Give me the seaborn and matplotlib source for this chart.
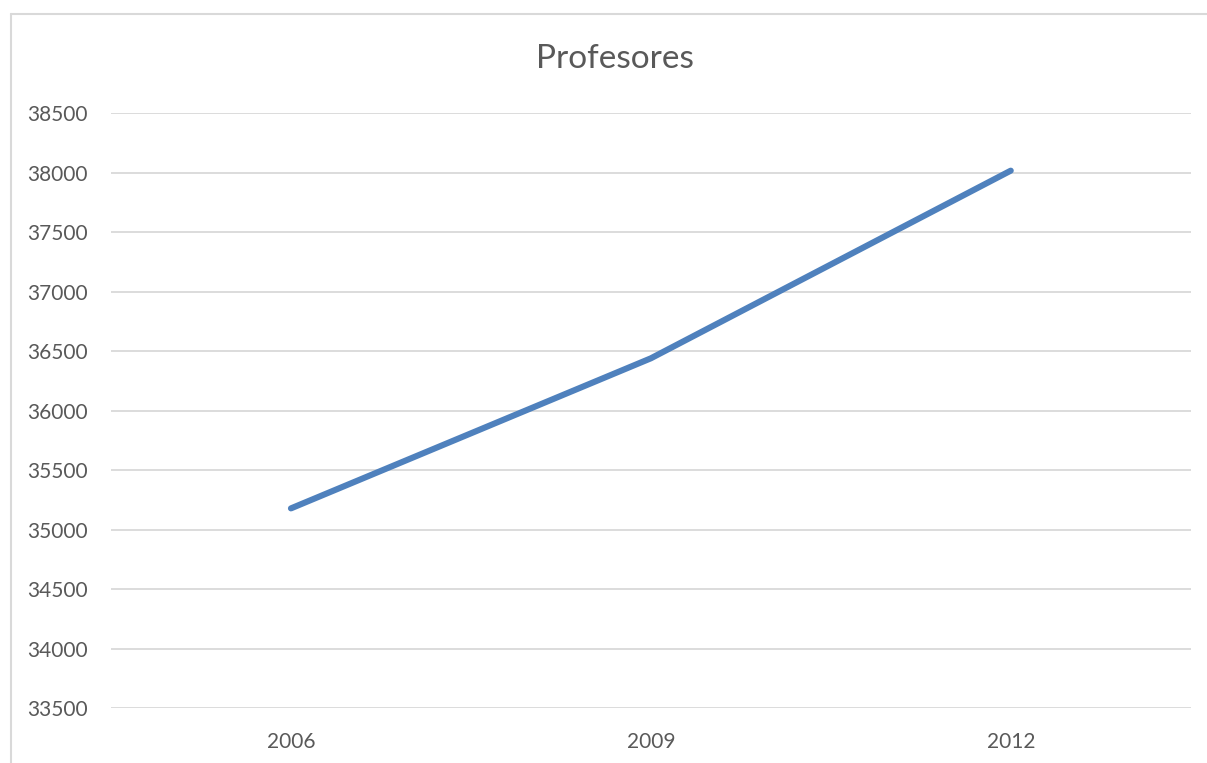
import matplotlib
matplotlib.use("Agg")
import matplotlib.pyplot as plt
import seaborn as sns
import pandas as pd
from matplotlib.lines import Line2D

# Number of teachers per survey year
years = ["2006", "2009", "2012"]
teachers = [35180, 36441, 38018]
y_ticks = [33500, 34000, 34500, 35000, 35500, 36000, 36500, 37000, 37500, 38000, 38500]

sns.set_theme(style="white")
plt.rcParams["font.family"] = ["Lato", "DejaVu Sans"]

text_color = "#595959"
grid_color = "#d9d9d9"
line_color = "#4f81bd"

fig = plt.figure(figsize=(12.07, 7.63), dpi=100)
ax = fig.add_axes([111 / 1207, (763 - 708.3) / 763, (1190.7 - 111) / 1207, (708.3 - 113.3) / 763])

df = pd.DataFrame({"year": years, "teachers": teachers})
df["pos"] = range(len(years))
sns.lineplot(data=df, x="pos", y="teachers", ax=ax, color=line_color,
             linewidth=4.4, solid_capstyle="round", solid_joinstyle="round")

ax.set_xlim(-0.5, len(years) - 0.5)
ax.set_ylim(y_ticks[0], y_ticks[-1])
ax.set_xticks(range(len(years)))
ax.set_xticklabels(years)
ax.set_yticks(y_ticks)
ax.set_yticklabels([str(v) for v in y_ticks])
ax.set_xlabel("")
ax.set_ylabel("")

for v in y_ticks:
    ax.axhline(v, color=grid_color, linewidth=1.3, zorder=0)

for s in ax.spines.values():
    s.set_visible(False)
ax.tick_params(axis="both", length=0, labelsize=15, colors=text_color)
ax.tick_params(axis="y", pad=17)
ax.tick_params(axis="x", pad=17)

fig.text(615 / 1207, 1 - 59 / 763, "Profesores", ha="center", va="center",
         fontsize=24, color=text_color)

# Outer chart frame (top and left edges)
fig.add_artist(Line2D([11 / 1207, 1.0], [1 - 14 / 763, 1 - 14 / 763],
                      transform=fig.transFigure, color=grid_color, linewidth=1.5))
fig.add_artist(Line2D([11 / 1207, 11 / 1207], [0.0, 1 - 14 / 763],
                      transform=fig.transFigure, color=grid_color, linewidth=1.5))

fig.savefig("out.png", dpi=100, facecolor="white")
